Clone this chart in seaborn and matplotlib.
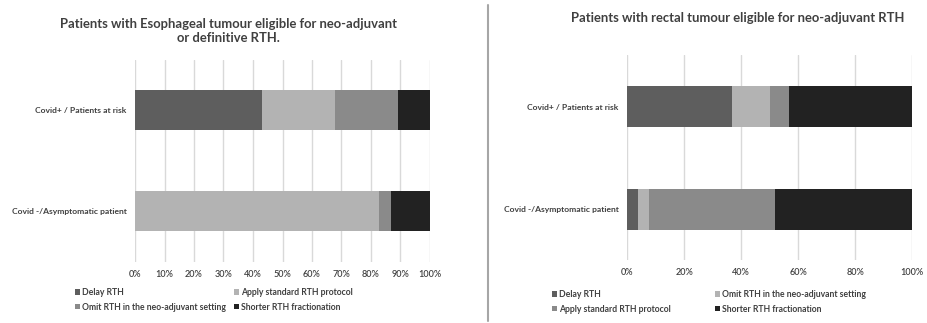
import matplotlib
matplotlib.use("Agg")
import matplotlib.pyplot as plt
from matplotlib.patches import Patch
from matplotlib.lines import Line2D
import numpy as np
import pandas as pd
import seaborn as sns

# ---- data (percent of respondents) ----
categories = ["Covid+ / Patients at risk", "Covid -/Asymptomatic patient"]

# Esophageal tumour
eso_labels = ["Delay RTH", "Apply standard RTH protocol",
              "Omit RTH in the neo-adjuvant setting", "Shorter RTH fractionation"]
eso_delay = [42.9, 0.0]
eso_apply = [25.0, 82.7]
eso_omit = [21.4, 4.2]
eso_shorter = [10.7, 13.1]

# Rectal tumour
rect_labels = ["Delay RTH", "Omit RTH in the neo-adjuvant setting",
               "Apply standard RTH protocol", "Shorter RTH fractionation"]
rect_delay = [36.7, 3.9]
rect_omit = [13.3, 3.9]
rect_apply = [6.7, 44.1]
rect_shorter = [43.3, 48.1]

# segment colours, in stacking order
seg_colors = ["#5e5e5e", "#b3b3b3", "#8a8a8a", "#222222"]
text_color = "#404040"

sns.set_theme(style="white")
plt.rcParams["font.family"] = ["Lato", "DejaVu Sans"]

W, H = 927, 323
fig = plt.figure(figsize=(W / 100, H / 100), dpi=100)


def px_axes(x0, x1, y0, y1):
    return fig.add_axes([x0 / W, 1 - y1 / H, (x1 - x0) / W, (y1 - y0) / H])


def stacked(ax, series, labels, ylim, xstep):
    df = pd.DataFrame({lab: vals for lab, vals in zip(labels, series)})
    df["category"] = categories
    cum = df[labels].cumsum(axis=1)
    # draw longest cumulative bar first so shorter ones sit on top
    for lab, col in reversed(list(zip(labels, seg_colors))):
        sns.barplot(x=cum[lab], y=df["category"], orient="h", color=col,
                    width=0.4, saturation=1, ax=ax, linewidth=0)
    ax.set_xlim(0, 100)
    ax.set_ylim(*ylim)
    ticks = np.arange(0, 101, xstep)
    ax.set_xticks(ticks)
    ax.set_xticklabels([f"{t}%" for t in ticks], fontsize=6.5, fontweight="semibold",
                       color=text_color)
    ax.set_yticklabels(categories, fontsize=6.1, fontweight="bold", color=text_color)
    ax.set_xlabel("")
    ax.set_ylabel("")
    ax.grid(axis="x", color="#d9d9d9", linewidth=1)
    ax.grid(axis="y", visible=False)
    ax.set_axisbelow(True)
    for s in ax.spines.values():
        s.set_visible(False)
    ax.tick_params(axis="both", length=0)
    ax.tick_params(axis="x", pad=6)
    ax.tick_params(axis="y", pad=6)


ax1 = px_axes(135, 430, 60, 262)
stacked(ax1, [eso_delay, eso_apply, eso_omit, eso_shorter], eso_labels,
        (1.503, -0.498), 10)

ax2 = px_axes(627, 912.3, 55, 260)
stacked(ax2, [rect_delay, rect_omit, rect_apply, rect_shorter], rect_labels,
        (1.496, -0.506), 20)

# titles
fig.text(228 / W, 1 - 31.5 / H,
         "Patients with Esophageal tumour eligible for neo-adjuvant\nor definitive RTH.",
         ha="center", va="center", fontsize=9.4, fontweight="bold",
         color=text_color, linespacing=1.2)
fig.text(738 / W, 1 - 17.5 / H,
         "Patients with rectal tumour eligible for neo-adjuvant RTH",
         ha="center", va="center", fontsize=9.4, fontweight="bold",
         color=text_color)

# divider between the two panels
fig.add_artist(Line2D([488 / W, 488 / W], [1 - 5 / H, 1 - 321 / H],
                      color="#a6a6a6", linewidth=1.5))


def legend_column(labels, colors, x, y):
    handles = [Patch(facecolor=c, edgecolor="none") for c in colors]
    leg = fig.legend(handles, labels, loc="upper left",
                     bbox_to_anchor=(x / W, 1 - y / H), frameon=False,
                     fontsize=6.2, handlelength=0.55, handleheight=0.55,
                     handletextpad=0.3, labelspacing=0.65, borderpad=0,
                     borderaxespad=0)
    for t in leg.get_texts():
        t.set_color(text_color)
        t.set_fontweight("bold")
    return leg


# legends (Excel style: two equal-width columns)
legend_column([eso_labels[0], eso_labels[2]], [seg_colors[0], seg_colors[2]], 75, 288)
legend_column([eso_labels[1], eso_labels[3]], [seg_colors[1], seg_colors[3]], 234, 288)
legend_column([rect_labels[0], rect_labels[2]], [seg_colors[0], seg_colors[2]], 552, 290)
legend_column([rect_labels[1], rect_labels[3]], [seg_colors[1], seg_colors[3]], 715, 290)

fig.savefig("out.png", dpi=100)
